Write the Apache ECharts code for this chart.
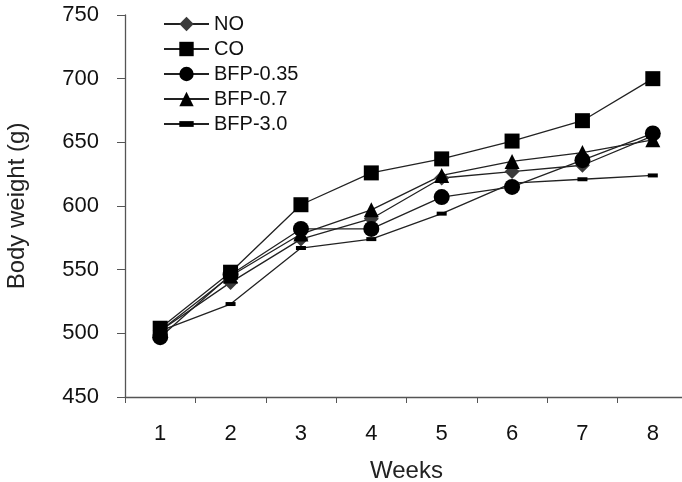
<!DOCTYPE html>
<html>
<head>
<meta charset="utf-8">
<script src="https://cdn.jsdelivr.net/npm/echarts@6/dist/echarts.min.js"></script>
<style>
  html, body { margin: 0; padding: 0; background: #fff; }
  #main { width: 682px; height: 482px; }
</style>
</head>
<body>
<div id="main"></div>
<script>
// weeks on the x axis
const weeks = ['1', '2', '3', '4', '5', '6', '7', '8'];
// body weight (g) per group
const noGroup = [502, 540, 574, 590, 622, 627, 632, 655];
const coGroup = [504, 548, 601, 626, 637, 651, 667, 700];
const bfp035 = [497, 546, 582, 582, 607, 615, 636, 657];
const bfp07 = [502, 545, 578, 597, 624, 635, 642, 652];
const bfp30 = [502, 523, 567, 574, 594, 618, 621, 624];

const lineStyle = { color: '#222', width: 1.3 };
// short dash inside a square box, so it keeps its shape in the legend too
const dashSymbol = 'path://M0,0 L0,0 M0,3 L10,3 L10,7 L0,7 Z M10,10 L10,10';

function makeSeries(name, data, symbol, size, color) {
  return {
    name: name,
    type: 'line',
    data: data,
    symbol: symbol,
    symbolSize: size,
    itemStyle: { color: color },
    lineStyle: lineStyle,
    emphasis: { disabled: true }
  };
}

let chartDom = document.getElementById('main');
let myChart = echarts.init(chartDom);
let option = {
  animation: false,
  textStyle: { fontFamily: 'Liberation Sans, Arial, sans-serif' },
  legend: {
    orient: 'vertical',
    left: 158,
    top: 9,
    itemWidth: 45,
    itemHeight: 18,
    itemGap: 5,
    textStyle: { fontSize: 20, color: '#111' },
    data: ['NO', 'CO', 'BFP-0.35', 'BFP-0.7', 'BFP-3.0']
  },
  grid: {
    left: 125,
    top: 15,
    width: 563,
    height: 382,
    containLabel: false,
    outerBoundsMode: 'none'
  },
  xAxis: {
    type: 'category',
    data: weeks,
    boundaryGap: true,
    name: 'Weeks',
    nameLocation: 'middle',
    nameGap: 62,
    nameTextStyle: { fontSize: 24, color: '#222' },
    axisLine: { lineStyle: { color: '#555', width: 1.3 } },
    axisTick: { show: true, inside: false, length: 6, lineStyle: { color: '#555' } },
    axisLabel: { fontSize: 22, color: '#111', margin: 26 },
    splitLine: { show: false }
  },
  yAxis: {
    type: 'value',
    min: 450,
    max: 750,
    interval: 50,
    name: 'Body weight (g)',
    nameLocation: 'middle',
    nameGap: 96,
    nameTextStyle: { fontSize: 24, color: '#222' },
    axisLine: { show: true, lineStyle: { color: '#555', width: 1.3 } },
    axisTick: { show: true, inside: false, length: 8, lineStyle: { color: '#555' } },
    axisLabel: { fontSize: 22, color: '#111', margin: 26 },
    splitLine: { show: false }
  },
  series: [
    makeSeries('NO', noGroup, 'diamond', 15, '#3a3a3a'),
    makeSeries('CO', coGroup, 'rect', 15, '#000'),
    makeSeries('BFP-0.35', bfp035, 'circle', 16, '#000'),
    makeSeries('BFP-0.7', bfp07, 'triangle', 15, '#000'),
    makeSeries('BFP-3.0', bfp30, dashSymbol, 10, '#000')
  ]
};
myChart.setOption(option);
</script>
</body>
</html>
